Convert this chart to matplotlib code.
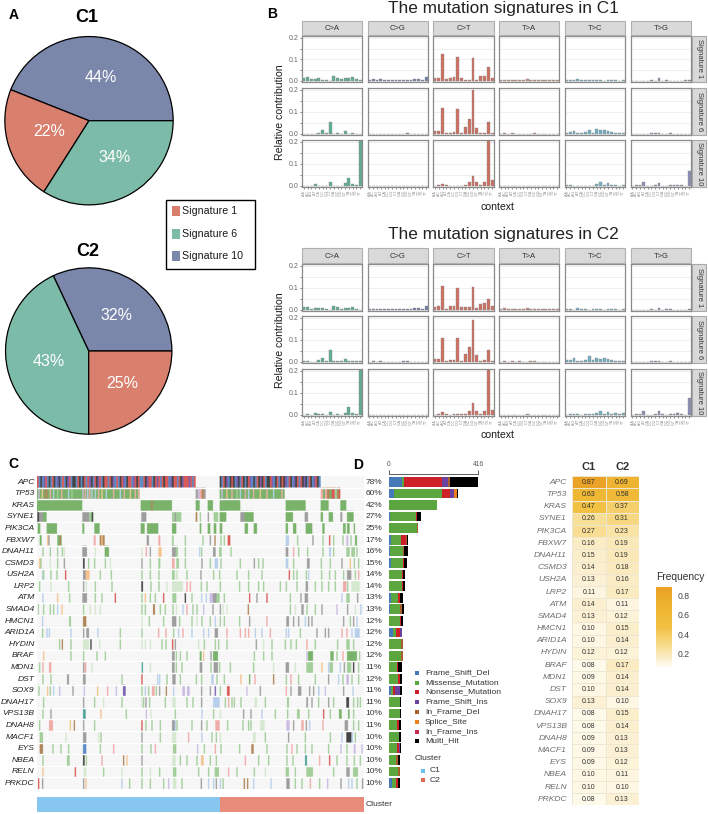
import re
import numpy as np
import matplotlib
matplotlib.use("Agg")
import matplotlib.pyplot as plt
from matplotlib.colors import LinearSegmentedColormap, Normalize, to_rgb
from matplotlib.cm import ScalarMappable
from matplotlib.patches import Rectangle

plt.rcParams['font.family'] = ['Liberation Sans', 'DejaVu Sans']
W, H = 708, 814
fig = plt.figure(figsize=(W/100, H/100), dpi=100, facecolor='white')

# ---------- A: pies
pie_names = ["Signature 1", "Signature 6", "Signature 10"]
pie_colors = ["#D87F6E", "#7CBBA8", "#7B86AB"]
c1_shares = [22, 34, 44]
c2_shares = [25, 43, 32]

# ---------- B: mutation spectra (rows: signature, inner lists: C>A C>G C>T T>A T>C T>G)
mut_types = ["C>A", "C>G", "C>T", "T>A", "T>C", "T>G"]
mut_colors = ["#5FAE96", "#6F7FA8", "#CF6F5F", "#C98878", "#6FB0C6", "#8A8FB5"]
contexts = [a + "." + b for a in "ACGT" for b in "ACGT"]
sig_names = ["Signature 1", "Signature 6", "Signature 10"]
z16 = [0.0005]*16
c1_sig1 = [
 [.015,.017,.007,.011,.012,.006,.005,.001,.023,.015,.009,.013,.014,.017,.009,.003],
 [.006,.007,.003,.007,.004,.003,.004,.005,.005,.003,.002,.006,.009,.007,.004,.019],
 [.014,.014,.125,.007,.015,.017,.11,.014,.006,.005,.105,.005,.023,.022,.065,.013],
 [.003,.006,.005,.004,.003,.004,.005,.007,.003,.003,.003,.002,.003,.003,.002,.006],
 [.004,.004,.003,.008,.003,.005,.005,.006,.003,.003,.001,.006,.004,.005,.001,.006],
 [.001,.001,.001,.001,.001,.002,.001,.012,.001,.002,.001,.001,.001,.001,.002,.005]]
c1_sig6 = [
 [0,0,0,.001,.006,.018,.005,.052,.001,.006,.001,.014,0,.003,0,0],
 [.001,.001,.001,.001,.001,.001,.001,.001,.001,.001,.002,.001,.001,.001,.001,.001],
 [.014,.013,.117,.005,.005,.01,.112,.006,.03,.066,.2,.025,.004,.006,.056,.003],
 [.001,.002,.001,.003,.001,.001,.001,.001,.001,.002,.001,.001,.001,.001,.001,.001],
 [.006,.007,.015,.003,.005,.009,.02,.004,.023,.018,.016,.015,.009,.006,.006,.004],
 [0,.001,0,0,.001,.004,.004,.004,.001,0,.002,0,0,0,0,0]]
c1_sig10 = [
 [.001,0,0,.01,.001,0,0,.017,.001,0,0,.015,.034,.008,.002,.35],
 z16,
 [0,.004,.007,.002,0,0,0,0,.002,.02,.045,.018,.002,.017,.35,.025],
 [.001,.001,.001,.001,.001,.001,.001,.001,.001,.001,.001,.001,.001,.001,.001,.001],
 [.002,.004,.001,.001,0,0,.001,.001,.008,.018,.003,.011,.002,.005,.001,.004],
 [.001,.004,.004,.017,0,0,.002,.014,.001,0,.004,.005,.006,.002,.001,.07]]
c2_sig1 = [
 [.012,.014,.003,.007,.01,.007,.004,.001,.02,.013,.006,.01,.01,.014,.006,.001],
 [.004,.004,.002,.006,.002,.002,.002,.005,.002,.005,.002,.006,.008,.008,.002,.019],
 [.012,.018,.11,.006,.02,.017,.1,.012,.011,.011,.105,.007,.026,.03,.049,.016],
 [.006,.008,.005,.005,.002,.005,.006,.007,.004,.003,.003,.003,.004,.005,.003,.006],
 [.004,.004,.001,.009,.002,.006,.001,.006,.003,.004,.001,.005,.003,.005,.001,.006],
 [.001,.001,.001,.001,.001,.002,.001,.007,.001,.002,.002,.001,.001,.001,.001,.004]]
c2_sig6 = [
 [.002,.002,.001,.001,.007,.016,.006,.053,.003,.006,.002,.013,.002,.003,.002,.003],
 [.001,.002,.001,.002,.001,.001,.001,.001,.001,.002,.003,.001,.001,.001,.001,.001],
 [.014,.013,.11,.006,.007,.01,.11,.006,.036,.067,.19,.03,.003,.007,.054,.002],
 [.001,.003,.001,.003,.001,.002,.001,.001,.002,.002,.001,.001,.001,.001,.001,.001],
 [.007,.008,.017,.004,.005,.007,.025,.007,.02,.015,.018,.011,.007,.006,.006,.002],
 [0,0,0,.001,0,.003,.005,.006,.001,0,.002,0,0,0,0,0]]
c2_sig10 = [
 [.001,.003,0,.008,.003,.002,0,.013,.001,.004,0,.01,.035,.009,.005,.35],
 z16,
 [0,.005,.012,.003,.001,.003,.006,.003,.003,.018,.055,.017,.006,.018,.35,.024],
 [.001,.001,.001,.001,.001,.001,.001,.003,.001,.001,.001,.001,.001,.001,.001,.001],
 [.001,.006,.002,.004,.001,.002,.002,.002,.009,.017,.003,.012,.003,.007,.002,.007],
 [.001,.005,.003,.017,0,0,.002,.017,.002,0,.002,.006,.007,.003,.001,.077]]

# ---------- C / D: oncoplot
genes = ["APC","TP53","KRAS","SYNE1","PIK3CA","FBXW7","DNAH11","CSMD3","USH2A","LRP2","ATM","SMAD4",
         "HMCN1","ARID1A","HYDIN","BRAF","MDN1","DST","SOX9","DNAH17","VPS13B","DNAH8","MACF1","EYS",
         "NBEA","RELN","PRKDC"]
pct = [78,60,42,27,25,17,16,15,14,14,13,13,12,12,12,12,11,12,11,11,10,11,10,10,10,10,10]

apc_a = "RBKBPRBKBRKBPKBRBKPRBKKBRKBKRBRPKBRKPRBKRRBRKPBRBKRPBKRRBPRKRBBRKPRRBKRPRBRKRRBPKRRBRKPRRRPRBR"
apc_b = "KBRKPBKRKBPKBRKBKRPBKBRKPKRBKKRPBKRBKRKPBRKBPKRBRKPKBRKBPRKB"
tracks = [
 "",
 "112-420G 116p 126o 134W 140W 150r 160b 172g 184r 205b 215g 248-252p 255r 262b 268r 275b 285b 295r 305o 318b 340r 360b 372r 390o 405r 415r 588-594k 594-600p 600-606r 606-612W 612-618k 660-855G 665p 680o 695r 710g 720b 735r 745b 760r 780o 800r 820b 845r 963-970r 970-976G 976-982r 982-990W 990-996G 996-1005R 1005-1012g 1012-1018W 1018-1022R",
 "112-248G 423-517G 455W 588-600G 624-640G 660-722G 858-918G 963-987G 1022-1040G",
 "113-118K 118-130k 130-141G 248-268k 268-282g 276K 425-440k 517-545g 525k 588-593W 600-604g 624-628k 642-656g 660-680G 722-735k 735-762G 858-880G 915-925k 963-970G 987-1000G 1022-1028k 1042-1062G",
 "114-122G 141-172G 248-254G 284-300G 423-435G 442-476G 517-530G 600-605G 624-632G 642-650G 660-668G 735-745G 762-772G 858-865G 880-890G 918-938G 968-975G 1030-1038G 1042-1050G 1062-1066G",
 "120-126G 142o 146k 173-186G 180W 282-288r 300-315W 305o 441-448k 476-482r 517-522g 555g 608g 630k 644W 662g 672g 684-692R 858-868b 892g 938k 968g 988R 1000g 1028g 1040-1046p 1052g 1066-1072G",
 "128g 150g 172g 186g 192h 248-262k 285h 315-328G 425h 438r 450k 476-486o 517-528k 528-535g 555g 598b 604g 640-648k 658g 662g 692g 858-866k 880r 895g 922g 968g 988-994b 1000g 1040-1050g 1055-1066g 1070g",
 "118o 122g 150h 172g 192k 250-255K 265g 283g 315g 330h 425k 450g 476-482g 517-525r 530-538g 555g 605k 630g 645-655b 662g 720g 762k 775g 788g 858-866b 880g 922-930k 963g 990g 1025k 1050o 1062g 1075g",
 "127b 130g 152g 170g 196R 250-258k 258-270o 300g 333g 425g 450g 476g 517-525g 528-535h 560g 602k 640g 658g 710g 745g 785g 867R 880g 890g 918g 925b 964g 988g 1005g 1030g 1042-1055k 1065g 1075r",
 "118g 152h 205g 250k 258h 285g 335g 425-430K 452g 476g 500h 517-530h 530-550h 560r 570r 603g 620g 660g 718g 745g 775g 790g 840g 858g 890g 918-925k 945g 965g 985g 1005g 1030-1040r 1042g 1055-1080h",
 "128b 172o 208g 248-262k 285g 305g 345R 425g 435o 450g 465g 490R 518-530g 555K 575g 604b 618b 630-640p 640-650k 650-660g 672g 748R 770k 800R 870g 902k 915-925k 1025b 1040-1050g 1072k",
 "115-118g 130g 150g 160g 172b 185o 250g 270h 285h 300h 425g 435g 460-466W 480g 495g 518g 528h 548b 560r 578g 590g 610p 638k 660k 668h 680h 744W 870g 885h 905-912k 920g 945g 965k 1010p 1042k 1065h 1082b",
 "127b 208-214g 250-260W 425h 447g 490g 517-530k 538g 575g 590h 605g 630g 645b 660g 672g 718g 748k 800r 860-868k 880k 895k 915b 925k 935k 1030k 1050g 1060k 1070b",
 "127g 140b 147b 212b 250k 260-268k 293b 360g 425g 475r 497r 520g 535b 548r 575b 610b 625b 645-655k 680r 720r 735r 745r 765b 785b 810r 858b 865b 900g 950k 975k 985k 1025r 1040r 1055b 1065-1080b",
 "178g 186W 212g 250-268h 272K 298h 360g 425h 435h 450h 485g 497g 517R 525k 595h 612g 645g 655g 680g 768k 790h 815g 855g 872g 888g 920r 945g 1012g 1040-1050g 1060g",
 "130o 212g 250g 290g 315g 517-525k 528g 540g 560g 600-606G 610o 632k 640-655G 762g 790g 815g 920p 925-940G 992-1002G 1010g 1028r 1042-1072G 1078g",
 "118g 128r 148-155r 250k 255-260r 275h 426T 450h 517-525k 528g 545g 600-608k 632g 642-655k 658g 690g 760g 820h 858-868k 885h 920-940g 965o 985b 990-1000g 1020b 1032k 1042-1055g 1060K 1075g",
 "128g 152g 202-208k 250-258k 365g 425R 472b 478b 500g 518-528k 540g 588g 604g 635-642b 650g 672g 722o 748-752G 764r 820W 858g 872r 895g 945g 985k 1015b 1028g 1040-1048p 1055g 1075g",
 "116g 142o 150g 160b 178p 218k 252p 292o 322r 348p 370-378P 425g 435b 445g 457-465r 468g 478k 498W 520b 548-556p 562-570p 604k 630k 645P 660g 682-690R 740p 780k 858r 872k 895-905k 928k 940k 955-960b 975p 1030k 1058b",
 "130g 250k 283g 310h 365g 425h 430g 437k 448g 495g 518-528h 560g 578g 604k 640-660b 675g 685r 695g 702g 722g 765-772h 795g 862-868g 920-925k 935k 955g 985k 1000g 1040-1048K 1060g 1072g 1080g",
 "128g 152k 250-258T 302o 378g 438p 452h 525g 605b 640g 660h 730k 752k 785b 825g 862g 892-900g 925g 970R 990g 1018-1026G 1045-1050G 1060g",
 "118g 148-160r 210-214o 222W 250k 283g 425R 437g 455g 480g 517-525k 525b 530g 575g 604-608k 620g 647-660r 682g 728g 745g 752g 782-795h 860-870p 880k 905-912r 918k 928b 968r 1035-1045k 1060g 1075g",
 "120-130g 197h 250-260k 295h 302g 425k 480g 517-530h 565r 605b 635g 648g 660h 760-768h 795g 865k 915g 990g 1025b 1040-1055K 1055-1060b 1065g",
 "120-130W 158g 182g 205g 250-260B 300g 340r 425g 452g 465r 520-530g 592p 612g 645r 662g 718g 755-762W 800g 860g 875r 890g 915g 935g 985g 1022p 1040g 1062-1068p 1085p",
 "128g 202-210g 250-255K 258g 305r 370W 380o 425k 518-528h 540g 560g 590g 604-612o 630g 648g 735r 775g 805g 860g 878g 916-922T 958r 988R 1010g 1040g 1062g 1080g",
 "128o 225R 252-260h 310g 365h 425g 450h 478g 520-530g 595g 625g 645-658g 685r 710g 762g 795h 858-868g 885g 920-940g 1000g 1040-1050k 1060-1075g",
 "115R 127k 250k 257o 365b 388g 425g 450g 490g 505p 520-530h 545g 603k 625b 640b 648k 660b 668g 732W 742W 760b 812b 860-870k 885g 905g 930r 958g 982p 1022k 1045b 1055b 1070g 1087k",
]
track_colors = {'_':"#F7F7F7",'G':"#7AB36B",'g':"#A2CE9A",'h':"#D5E8D0",'R':"#DA5B58",'r':"#F0ABA8",
                'B':"#5E8DC9",'b':"#B8CFEA",'P':"#7A62B0",'p':"#CBBCE2",'K':"#444444",'k':"#9E9E9E",
                'O':"#F08A24",'o':"#F4C390",'W':"#B08658",'T':"#4FA598"}
col_start, col_end = 112, 1093
cluster_split = 660

frame_shift_del = [61,22,0,3,0,9,3,8,0,0,11,5,0,20,0,0,0,0,9,0,2,0,0,0,0,0,12]
missense_mut    = [11,226,226,121,132,47,61,59,61,61,31,47,51,12,56,56,39,42,9,50,48,37,47,39,33,44,19]
nonsense_mut    = [175,37,0,5,0,22,3,3,6,5,9,0,5,19,0,0,3,8,11,0,0,8,0,6,0,0,9]
frame_shift_ins = [31,17,0,0,0,0,0,0,0,0,0,0,0,11,0,0,0,0,22,0,0,0,0,5,0,0,0]
in_frame_del    = [8,0,0,0,3,4,5,0,0,0,0,8,0,0,8,8,0,0,0,0,0,0,0,0,11,8,0]
splice_site     = [0,16,0,0,0,0,0,0,0,0,0,0,0,0,0,0,0,0,0,0,0,0,0,0,0,0,0]
in_frame_ins    = [0]*27
multi_hit       = [132,5,0,20,0,9,15,12,8,8,16,8,8,0,0,0,18,9,8,8,5,9,9,5,8,0,12]
var_names = ["Frame_Shift_Del","Missense_Mutation","Nonsense_Mutation","Frame_Shift_Ins","In_Frame_Del",
             "Splice_Site","In_Frame_Ins","Multi_Hit"]
var_colors = ["#4679B8","#5CA63F","#CE2029","#6A42A0","#A5602E","#F0801E","#C62C52","#000000"]
var_counts = [frame_shift_del,missense_mut,nonsense_mut,frame_shift_ins,in_frame_del,splice_site,in_frame_ins,multi_hit]

freq_c1 = [.87,.63,.47,.26,.27,.16,.15,.14,.13,.11,.14,.13,.10,.10,.12,.08,.09,.10,.13,.08,.08,.09,.09,.09,.10,.10,.08]
freq_c2 = [.69,.58,.37,.31,.23,.19,.19,.18,.16,.17,.11,.12,.15,.14,.12,.17,.14,.14,.10,.15,.14,.13,.13,.12,.11,.10,.13]


def axpx(l, t, r, b, **kw):
    return fig.add_axes([l/W, 1-b/H, (r-l)/W, (b-t)/H], **kw)

bg = axpx(0, 0, W, H)
bg.set_xlim(0, W); bg.set_ylim(H, 0); bg.axis('off')
bg.set_zorder(20)

def T(x, y, s, **kw):
    kw.setdefault('ha', 'center'); kw.setdefault('va', 'center')
    kw.setdefault('color', '#1a1a1a')
    return bg.text(x, y, s, **kw)

for x, y, s in [(14, 15, 'A'), (272, 14, 'B'), (13, 464, 'C'), (358, 465, 'D')]:
    T(x, y, s, fontsize=10, fontweight='bold', color='black')

# pies
def pie(cx, cy, r, shares, order, start, labs):
    ax = axpx(cx-r, cy-r, cx+r, cy+r)
    vals = [shares[i] for i in order]
    cols = [pie_colors[i] for i in order]
    ax.pie(vals, colors=cols, startangle=start, counterclock=True, radius=1,
           wedgeprops=dict(edgecolor='black', linewidth=0.9))
    ax.set_xlim(-1.01, 1.01); ax.set_ylim(-1.01, 1.01)
    for i, (x, y) in zip(order, labs):
        T(x, y, f"{shares[i]}%", fontsize=11.5, color='white')

pie(89, 120.7, 85, c1_shares, [2, 0, 1], 0, [(101, 78), (49.5, 132), (115, 157)])
pie(88.7, 351, 84, c2_shares, [2, 1, 0], 0, [(116, 315), (49, 362), (122, 383)])
T(87, 17, 'C1', fontsize=13, fontweight='bold', color='black')
T(88, 251, 'C2', fontsize=13, fontweight='bold', color='black')
bg.add_patch(Rectangle((166, 200), 89, 69, fc='white', ec='black', lw=1))
for y, n, c in zip([211, 234, 256], pie_names, pie_colors):
    bg.add_patch(Rectangle((172, y-5), 8, 10, fc=c, ec='none'))
    T(182, y, n, ha='left', fontsize=7.7)

# spectra
px_l = [302, 367.6, 433, 499, 564.6, 630.6]
px_r = [362, 428, 494, 559, 625, 691]
BORDER = '#8A8A8A'

def spectra(strip_top, strip_bot, rows, data, title_y, ylab_y, ctx_y):
    T(503.5, title_y, 'The mutation signatures in ' + ('C1' if title_y < 100 else 'C2'),
      fontsize=12.4, color='#222222')
    T(280, ylab_y, 'Relative contribution', rotation=90, fontsize=7.6)
    T(497, ctx_y, 'context', fontsize=7.6)
    for j, m in enumerate(mut_types):
        bg.add_patch(Rectangle((px_l[j], strip_top), px_r[j]-px_l[j], strip_bot-strip_top-0.6,
                               fc='#D9D9D9', ec='#B0B0B0', lw=0.8))
        T((px_l[j]+px_r[j])/2, (strip_top+strip_bot)/2, m, fontsize=5.5, color='#333333')
    for i, (t, b) in enumerate(rows):
        bg.add_patch(Rectangle((692, t), 14, b-t, fc='#D9D9D9', ec='#A8A8A8', lw=0.8))
        T(699, (t+b)/2, sig_names[i], rotation=-90, fontsize=5.5, color='#333333')
        for j in range(6):
            ax = axpx(px_l[j], t, px_r[j], b)
            ax.set_axisbelow(True)
            ax.bar(range(16), data[i][j], width=0.74, color=mut_colors[j], edgecolor='#8C8C8C', linewidth=0.3)
            ax.set_xlim(-0.5, 15.5); ax.set_ylim(-0.005, 0.209)
            ax.set_yticks([0, .05, .1, .15, .2])
            ax.set_yticklabels(['0.0', '', '0.1', '', '0.2'], fontsize=5, color='#666666')
            ax.grid(axis='y', color='#EDEDED', lw=0.6)
            for s in ax.spines.values():
                s.set_color(BORDER); s.set_linewidth(0.9)
            ax.tick_params(axis='y', length=1.5 if j == 0 else 0, width=0.5, pad=1, color='#555555', labelleft=(j == 0))
            if i == 2:
                ax.set_xticks(range(16))
                ax.set_xticklabels(contexts, rotation=90, fontsize=2.6, color='#888888')
                ax.tick_params(axis='x', length=1.4, width=0.45, pad=0.6, color='#555555')
            else:
                ax.set_xticks([])

spectra(20.5, 35.5, [(36, 82), (88, 135), (140, 187)], [c1_sig1, c1_sig6, c1_sig10], 8, 112, 207)
spectra(248, 264, [(264, 311), (316, 363), (369, 416)], [c2_sig1, c2_sig6, c2_sig10], 234.5, 340, 435)

# oncoplot matrix
ncol = col_end - col_start
mat = np.empty((len(genes), ncol, 3))
mat[:] = to_rgb(track_colors['_'])

def paint(r, a, b, c):
    mat[r, max(a-col_start, 0):min(b-col_start, ncol)] = to_rgb(track_colors[c])

for (s, e, pat) in [(112, 588, apc_a), (660, 963, apc_b)]:
    w = (e-s)/len(pat)
    for k, ch in enumerate(pat):
        paint(0, int(s+k*w), int(s+(k+1)*w), ch)
for r, tr in enumerate(tracks):
    for tok in tr.split():
        m = re.fullmatch(r'(\d+)(?:-(\d+))?([A-Za-z])', tok)
        a = int(m[1]); b = int(m[2]) if m[2] else a+4
        paint(r, a, b, m[3])

T_top, row_h = 476.0, 11.59
M_bot = T_top + row_h*len(genes)
axm = axpx(37, T_top, 364, M_bot)
axm.imshow(np.repeat(mat, 8, axis=0), extent=[col_start, col_end, len(genes), 0], aspect='auto',
           interpolation='antialiased')
axm.hlines(np.arange(1, len(genes)), col_start, col_end, color='white', lw=1.0)
axm.axis('off')
for i, (g, p) in enumerate(zip(genes, pct)):
    y = T_top + row_h*(i+.5) + 0.3
    T(34.7, y, g, ha='right', fontsize=6.1, style='italic', color='#222222')
    T(365.5, y, f"{p}%", ha='left', fontsize=6, color='#333333')

axc = axpx(37, 797, 364, 812)
axc.barh([0], [cluster_split-col_start], left=col_start, height=1, color='#86C6EF')
axc.barh([0], [col_end-cluster_split], left=cluster_split, height=1, color='#E98B7A')
axc.set_xlim(col_start, col_end); axc.set_ylim(-.5, .5); axc.axis('off')
T(366, 804, 'Cluster', ha='left', fontsize=6.1, color='#333333')

# stacked bars
axb = axpx(389, T_top, 478, M_bot)
axb.patch.set_alpha(0)
left = np.zeros(len(genes))
for name, col, vals in zip(var_names, var_colors, var_counts):
    axb.barh(range(len(genes)), vals, left=left, height=0.84, color=col, linewidth=0)
    left += np.array(vals)
axb.set_xlim(0, 416); axb.set_ylim(len(genes)-.5, -.5)
for k in ['left', 'right', 'bottom']:
    axb.spines[k].set_visible(False)
axb.spines['top'].set_position(('outward', 1.5))
axb.spines['top'].set_linewidth(0.6); axb.spines['top'].set_color('#444444')
axb.xaxis.tick_top(); axb.set_xticks([0, 416]); axb.set_xticklabels(['0', '416'], fontsize=4.8, color='#555555')
axb.tick_params(axis='x', length=3, width=0.6, pad=1, color='#444444'); axb.set_yticks([])

# legends
for y, n, c in zip([672.7, 682.7, 692, 702, 712, 722, 732, 741], var_names, var_colors):
    bg.add_patch(Rectangle((415.3, y-1.9), 3.8, 3.8, fc=c, ec='none'))
    T(425, y, n, ha='left', fontsize=6.1, color='#333333')
T(415, 758, 'Cluster', ha='left', fontsize=6.1, color='#333333')
for y, n, c in zip([770.6, 780.3], ['C1', 'C2'], ['#6CC0EE', '#E56B57']):
    bg.add_patch(Rectangle((421.3, y-1.9), 3.8, 3.8, fc=c, ec='none'))
    T(430, y, n, ha='left', fontsize=6.1, color='#333333')

# heatmap
cmap = LinearSegmentedColormap.from_list('freq', [(0, '#FFFCEF'), (0.05, '#FDF5E0'), (0.1, '#FBEECB'),
                                                  (0.25, '#F8DD92'), (0.5, '#F2C041'), (0.7, '#EFB732'), (1, '#EBA126')])
norm = Normalize(0.065, 0.89)
H_top, h_row = 476.2, 12.19
H_bot = H_top + h_row*len(genes)
axh = axpx(572.3, H_top, 638.7, H_bot)
Z = np.array([freq_c1, freq_c2]).T
axh.pcolormesh(np.arange(3), np.arange(len(genes)+1), Z, cmap=cmap, norm=norm, edgecolors='#EDE6D0', linewidth=0.5)
axh.set_ylim(len(genes), 0); axh.axis('off')
for i in range(len(genes)):
    for j in range(2):
        axh.text(j+.5, i+.5, f"{Z[i, j]:.2f}", ha='center', va='center', fontsize=5, color='#333333')
    T(567, H_top+h_row*(i+.5), genes[i], ha='right', fontsize=6.1, style='italic', color='#6E6E6E')
T(589, 467, 'C1', fontsize=8, fontweight='bold', color='#333333')
T(622.5, 467, 'C2', fontsize=8, fontweight='bold', color='#333333')

cax = axpx(656, 586.7, 672, 666.7)
cb = fig.colorbar(ScalarMappable(norm=norm, cmap=cmap), cax=cax)
cb.outline.set_visible(False)
cb.set_ticks([.2, .4, .6, .8]); cb.set_ticklabels(['0.2', '0.4', '0.6', '0.8'])
cb.ax.tick_params(length=0, labelsize=6.2, labelcolor='#444444', pad=4)
T(656, 577, 'Frequency', ha='left', fontsize=7.4, color='#333333')

fig.savefig('out.png', dpi=100, facecolor='white')
